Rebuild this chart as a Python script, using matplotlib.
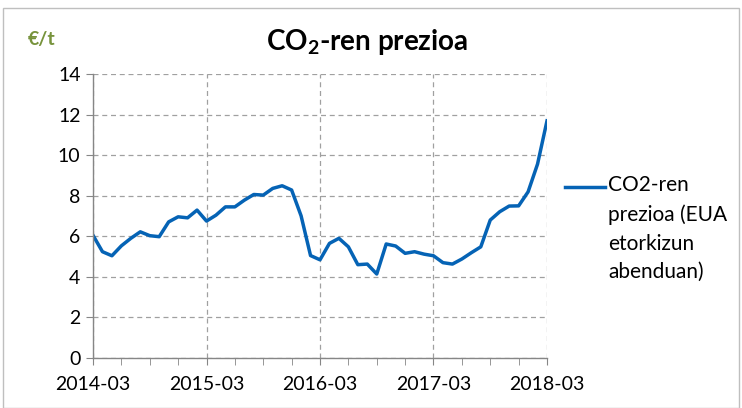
import numpy as np
import matplotlib
matplotlib.use("Agg")
import matplotlib.pyplot as plt
from matplotlib.patches import Rectangle
from matplotlib.lines import Line2D
from matplotlib.ticker import MultipleLocator

plt.rcParams['font.family'] = ['Lato', 'DejaVu Sans']
plt.rcParams['mathtext.fontset'] = 'custom'
plt.rcParams['mathtext.rm'] = 'Lato'
plt.rcParams['mathtext.bf'] = 'Lato:bold'

# monthly CO2 price, 2014-03 .. 2018-03 (EUR/t)
prices = [6.05, 5.24, 5.04, 5.53, 5.90, 6.22, 6.03, 5.98, 6.71, 6.96,
          6.91, 7.29, 6.75, 7.04, 7.45, 7.45, 7.78, 8.06, 8.03, 8.36,
          8.49, 8.28, 7.01, 5.05, 4.84, 5.65, 5.90, 5.48, 4.60, 4.63,
          4.14, 5.62, 5.52, 5.16, 5.24, 5.12, 5.04, 4.70, 4.63, 4.88,
          5.19, 5.48, 6.80, 7.21, 7.49, 7.50, 8.19, 9.56, 11.69]
tick_labels = ['2014-03', '2015-03', '2016-03', '2017-03', '2018-03']
series_name = 'CO2-ren\nprezioa (EUA\netorkizun\nabenduan)'

months = np.arange(len(prices))
blue = '#0563B5'

fig = plt.figure(figsize=(7.42, 4.08), dpi=100)
ax = fig.add_axes([93/742, 1 - 358/408, (547 - 93)/742, (358 - 74)/408])

ax.plot(months, prices, color=blue, lw=2.5, solid_joinstyle='round')

ax.set_xlim(0, 48)
ax.set_ylim(0, 14)
ax.set_xticks(np.arange(0, 49, 12))
ax.set_xticklabels(tick_labels)
ax.xaxis.set_minor_locator(MultipleLocator(3))
ax.set_yticks(np.arange(0, 15, 2))

ax.grid(True, which='major', color='#A0A0A0', ls=(0, (4, 3)), lw=0.9)
for s in ['top', 'right']:
    ax.spines[s].set_visible(False)
for s in ['left', 'bottom']:
    ax.spines[s].set_color('#868686')
    ax.spines[s].set_linewidth(1.0)
ax.tick_params(which='both', direction='out', color='#868686', labelsize=14, pad=4)
ax.tick_params(which='major', length=5)
ax.tick_params(which='minor', length=5)
ax.tick_params(axis='x', pad=8)

fig.text(367/742, 1 - 42/408, r'CO$_\mathbf{2}$-ren prezioa', ha='center', va='center',
         fontsize=20, fontweight='bold')
fig.text(28/742, 1 - 40/408, '€/t', ha='left', va='center', fontsize=14,
         fontweight='bold', color='#77933C')

# legend drawn by hand: handle lines up with the first text line
fig.add_artist(Line2D([565/742, 605/742], [1 - 187/408, 1 - 187/408],
                      transform=fig.transFigure, color=blue, lw=2.5))
fig.text(608/742, 1 - 175/408, series_name, ha='left', va='top', fontsize=15,
         linespacing=1.55)

fig.patches.append(Rectangle((3/742, 0), 736/742, 1 - 8/408, transform=fig.transFigure,
                             fill=False, edgecolor='#BFBFBF', lw=1.0))

fig.savefig('out.png', dpi=100)
